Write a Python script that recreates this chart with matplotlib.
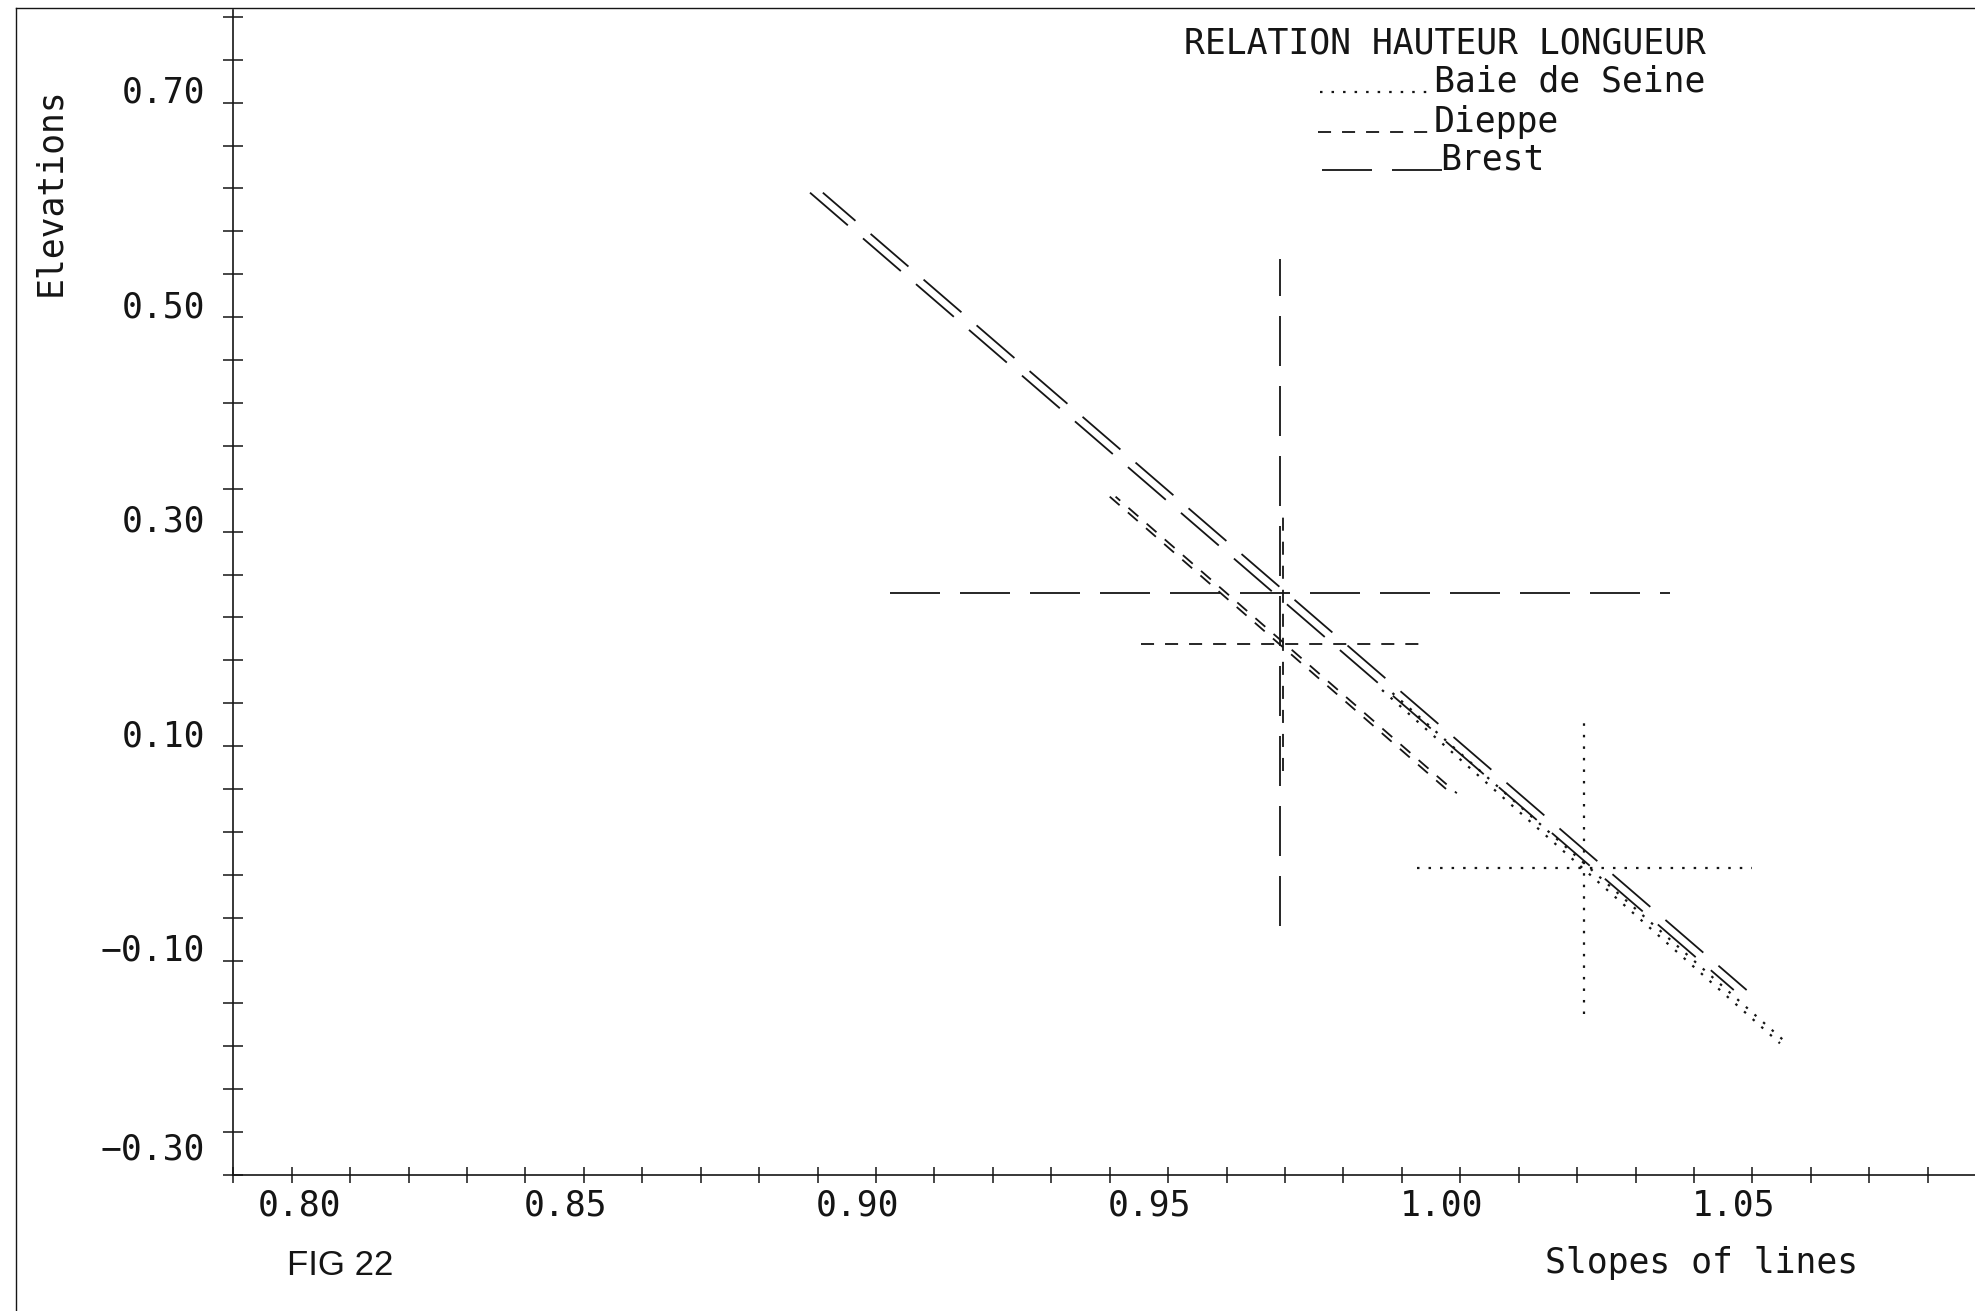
import numpy as np
import matplotlib
matplotlib.use("Agg")
import matplotlib.pyplot as plt
import matplotlib.transforms as mtransforms
from matplotlib.lines import Line2D

W, H = 1975, 1311
DPI = 100
plt.rcParams['lines.scale_dashes'] = False

MONO = "DejaVu Sans Mono"
FS = 25
INK = "#151515"
LW = 1.3

# series: Baie de Seine (dots), Dieppe (short dashes), Brest (long dashes)
names = ["Baie de Seine", "Dieppe", "Brest"]
styles = [(0, (1.8, 6.5)), (0, (9.4, 7.9)), (0, (36, 14.4))]
widths = [1.6, LW, LW]

# crosshair centre and half lengths
mean_x = [1.0312, 0.9797, 0.9791]
mean_y = [-0.0140, 0.1952, 0.2430]
cross_dx = [0.0287, 0.0243, 0.0667]
cross_dy = [0.1355, 0.1185, 0.3110]

# fitted line of each series, drawn twice side by side
line_y = [[0.1523, -0.1772], [0.3326, 0.0560], [0.6161, -0.1275]]
line1_x = [[0.9966, 1.0647], [0.9500, 1.0084], [0.8987, 1.0568]]
line2_x = [[0.9978, 1.0659], [0.9510, 1.0094], [0.9009, 1.0590]]

x_ticks = np.arange(80, 110) / 100
y_ticks = np.arange(-30, 80, 4) / 100
x_labels = [0.80, 0.85, 0.90, 0.95, 1.00, 1.05]
y_labels = [-0.30, -0.10, 0.10, 0.30, 0.50, 0.70]

fig = plt.figure(figsize=(W / DPI, H / DPI), dpi=DPI)
fig.patch.set_facecolor("white")

# axes: x axis 0.80 at px 233, y axis -0.30 at px 1175 (from top)
ax = fig.add_axes([233.3 / W, (H - 1175) / H, 1 - 233.3 / W, (1175 - 10) / H])
ax.set_xlim(0.80, 0.80 + (W - 233.3) / 5843)
ax.set_ylim(-0.30, -0.30 + (1175 - 10) / 1072.3)
ax.patch.set_alpha(0)
for s in ["top", "right"]:
    ax.spines[s].set_visible(False)
for s in ["left", "bottom"]:
    ax.spines[s].set_linewidth(1.2)
    ax.spines[s].set_color(INK)

ax.set_xticks(x_ticks)
ax.set_yticks(y_ticks)
ax.tick_params(axis="x", direction="inout", length=11, width=1.1, color=INK, labelbottom=False)
ax.tick_params(axis="y", direction="inout", length=15, width=1.1, color=INK, labelleft=False)

for i in range(len(names)):
    ls = styles[i]
    lw = widths[i]
    # crosshair
    ax.plot([mean_x[i] - cross_dx[i], mean_x[i] + cross_dx[i]], [mean_y[i], mean_y[i]],
            color=INK, lw=lw, linestyle=ls)
    ax.plot([mean_x[i], mean_x[i]], [mean_y[i] - cross_dy[i], mean_y[i] + cross_dy[i]],
            color=INK, lw=lw, linestyle=ls)
    # fitted line, twice
    ax.plot(line1_x[i], line_y[i], color=INK, lw=lw, linestyle=ls)
    ax.plot(line2_x[i], line_y[i], color=INK, lw=lw, linestyle=(5, ls[1]))

# tick labels, plotter style: x labels start at the tick, y labels sit on it
for v in x_labels:
    dx = 24 if v == 0.80 else -2
    tr = mtransforms.offset_copy(ax.get_xaxis_transform(), fig=fig, x=dx, y=-40, units="dots")
    ax.text(v, 0, f"{v:.2f}", transform=tr, ha="left", va="baseline",
            fontfamily=MONO, fontsize=FS, color=INK)
for v in y_labels:
    dy = 15 if v == -0.30 else 0
    tr = mtransforms.offset_copy(ax.get_yaxis_transform(), fig=fig, x=-28, y=dy, units="dots")
    ax.text(0, v, f"{v:.2f}".replace("-", "\u2212"), transform=tr, ha="right", va="baseline",
            fontfamily=MONO, fontsize=FS, color=INK)


def ftext(x, y, s, **kw):
    fig.text(x / W, 1 - y / H, s, **kw)


ftext(50, 192, "Elevations", rotation=90, ha="center", va="center",
      fontfamily=MONO, fontsize=FS, color=INK)
ftext(1545, 1273, "Slopes of lines", ha="left", va="baseline",
      fontfamily=MONO, fontsize=FS, color=INK)
ftext(287, 1275, "FIG 22", ha="left", va="baseline",
      fontfamily="Liberation Sans", fontsize=25, color=INK)

# title and hand-drawn key
ftext(1184, 53, "RELATION HAUTEUR LONGUEUR", ha="left", va="baseline",
      fontfamily=MONO, fontsize=FS, color=INK)
key_y = [92, 132, 170]
key_x0 = [1320, 1318, 1322]
key_x1 = [1428, 1433, 1442]
key_tx = [1434, 1434, 1440]
for i in range(len(names)):
    fig.add_artist(Line2D([key_x0[i] / W, key_x1[i] / W], [1 - key_y[i] / H] * 2,
                          transform=fig.transFigure, color=INK, lw=widths[i], linestyle=styles[i]))
    ftext(key_tx[i], key_y[i], names[i], ha="left", va="baseline",
          fontfamily=MONO, fontsize=FS, color=INK)

# page frame of the scan
fig.add_artist(Line2D([16 / W, 16 / W], [0, 1 - 8 / H], transform=fig.transFigure, color=INK, lw=1.0))
fig.add_artist(Line2D([16 / W, 1], [1 - 8 / H, 1 - 8 / H], transform=fig.transFigure, color=INK, lw=1.0))

fig.savefig("out.png", dpi=DPI)
